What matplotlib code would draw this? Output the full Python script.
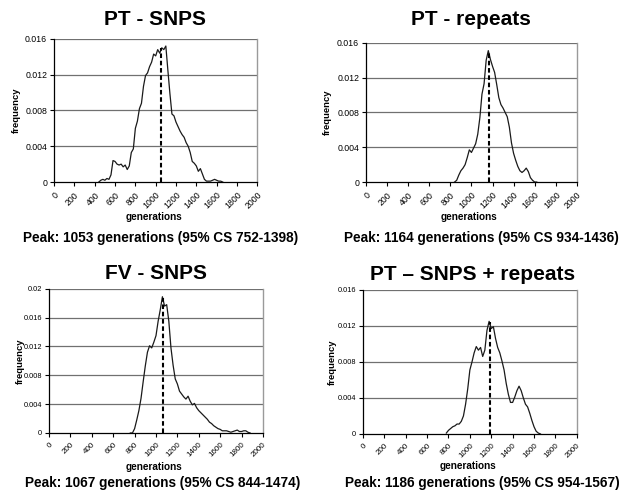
import matplotlib

matplotlib.use("Agg")
import matplotlib.pyplot as plt
import numpy as np

plt.rcParams["font.family"] = ["Liberation Sans", "DejaVu Sans"]

GRID = "#707070"
FRAME = "#9a9a9a"

TITLES = ["PT - SNPS", "PT - repeats", "FV - SNPS", "PT \u2013 SNPS + repeats"]
CAPTIONS = [
    "Peak: 1053 generations (95% CS 752-1398)",
    "Peak: 1164 generations (95% CS 934-1436)",
    "Peak: 1067 generations (95% CS 844-1474)",
    "Peak: 1186 generations (95% CS 954-1567)",
]
PEAK_GEN = [1053, 1164, 1067, 1186]
PEAK_FREQ = [0.0150, 0.0151, 0.0187, 0.0124]
Y_MAX = [0.016, 0.016, 0.02, 0.016]
Y_TICKS = [
    [0, 0.004, 0.008, 0.012, 0.016],
    [0, 0.004, 0.008, 0.012, 0.016],
    [0, 0.004, 0.008, 0.012, 0.016, 0.02],
    [0, 0.004, 0.008, 0.012, 0.016],
]
Y_LABELS = [
    ["0", "0.004", "0.008", "0.012", "0.016"],
    ["0", "0.004", "0.008", "0.012", "0.016"],
    ["0", "0.004", "0.008", "0.012", "0.016", "0.02"],
    ["0", "0.004", "0.008", "0.012", "0.016"],
]
X_TICKS = list(range(0, 2001, 200))

# generations, sampled every 20
pt_snps_x = list(range(440, 1661, 20))
pt_snps_y = [
    0.0, 0.0002, 0.0003, 0.0002, 0.0004, 0.0003, 0.0008, 0.0024, 0.0023, 0.0020,
    0.0019, 0.0020, 0.0017, 0.0019, 0.0014, 0.0018, 0.0033, 0.0037, 0.0060, 0.0068,
    0.0082, 0.0088, 0.0107, 0.0119, 0.0122, 0.0129, 0.0134, 0.0143, 0.0141, 0.0148,
    0.0144, 0.0150, 0.0148, 0.0152, 0.0125, 0.0099, 0.0076, 0.0074, 0.0067, 0.0062,
    0.0057, 0.0053, 0.0050, 0.0044, 0.0040, 0.0033, 0.0023, 0.0021, 0.0018, 0.0012,
    0.0015, 0.0009, 0.0003, 0.0001, 0.0001, 0.0001, 0.0002, 0.0003, 0.0002, 0.0001,
    0.0001, 0.0,
]

pt_rep_x = list(range(840, 1621, 20))
pt_rep_y = [
    0.0, 0.0002, 0.0008, 0.0013, 0.0016, 0.0020, 0.0028, 0.0037, 0.0034, 0.0039,
    0.0044, 0.0055, 0.0074, 0.0101, 0.0113, 0.0140, 0.0151, 0.0141, 0.0133, 0.0126,
    0.0112, 0.0097, 0.0089, 0.0085, 0.0080, 0.0075, 0.0063, 0.0045, 0.0033, 0.0025,
    0.0018, 0.0013, 0.0011, 0.0013, 0.0016, 0.0012, 0.0005, 0.0002, 0.0, 0.0,
]

fv_snps_x = list(range(760, 1881, 20))
fv_snps_y = [
    0.0, 0.0, 0.0006, 0.0018, 0.0031, 0.0048, 0.0071, 0.0093, 0.0112, 0.0121,
    0.0118, 0.0126, 0.0135, 0.0155, 0.0171, 0.0189, 0.0176, 0.0178, 0.0155, 0.0118,
    0.0094, 0.0075, 0.0068, 0.0058, 0.0054, 0.0050, 0.0047, 0.0051, 0.0044, 0.0039,
    0.0041, 0.0035, 0.0031, 0.0028, 0.0025, 0.0022, 0.0019, 0.0015, 0.0013, 0.0010,
    0.0008, 0.0006, 0.0005, 0.0003, 0.0003, 0.0003, 0.0002, 0.0001, 0.0002, 0.0003,
    0.0004, 0.0002, 0.0002, 0.0003, 0.0003, 0.0001, 0.0,
]

pt_both_x = list(range(780, 1661, 20))
pt_both_y = [
    0.0001, 0.0004, 0.0006, 0.0008, 0.0009, 0.0011, 0.0011, 0.0014, 0.0020, 0.0033,
    0.0050, 0.0071, 0.0080, 0.0090, 0.0097, 0.0093, 0.0096, 0.0086, 0.0093, 0.0115,
    0.0125, 0.0117, 0.0119, 0.0106, 0.0096, 0.0090, 0.0081, 0.0071, 0.0056, 0.0044,
    0.0035, 0.0035, 0.0041, 0.0048, 0.0053, 0.0048, 0.0040, 0.0033, 0.0030, 0.0023,
    0.0015, 0.0008, 0.0003, 0.0001, 0.0,
]

SERIES_X = [pt_snps_x, pt_rep_x, fv_snps_x, pt_both_x]
SERIES_Y = [pt_snps_y, pt_rep_y, fv_snps_y, pt_both_y]

# layout, all in figure / axes fractions
RECTS = [
    (0.086, 0.630, 0.323, 0.291),
    (0.582, 0.630, 0.335, 0.283),
    (0.078, 0.120, 0.340, 0.293),
    (0.577, 0.118, 0.340, 0.293),
]
TITLE_POS = [(0.247, 0.949), (0.749, 0.949), (0.248, 0.433), (0.752, 0.431)]
XLABEL_Y = [-0.245, -0.25, -0.236, -0.225]
YLABEL_X = [-0.187, -0.185, -0.136, -0.145]
YTICK_SIZE = [6.3, 6.3, 5.3, 5.3]
XTICK_SIZE = [6.3, 6.3, 5.8, 5.8]
CAPTION_POS = [(0.256, 0.517), (0.766, 0.517), (0.258, 0.018), (0.767, 0.019)]

fig = plt.figure(figsize=(6.29, 4.92), dpi=100)
fig.patch.set_facecolor("white")

for i in range(4):
    ax = fig.add_axes(RECTS[i])
    ax.set_xlim(0, 2000)
    ax.set_ylim(0, Y_MAX[i])

    for t in Y_TICKS[i][1:]:
        ax.axhline(t, color=GRID, linewidth=0.9, zorder=1)

    ax.plot(SERIES_X[i], SERIES_Y[i], color="#1a1a1a", linewidth=0.9, zorder=3)
    ax.vlines(PEAK_GEN[i], 0, PEAK_FREQ[i], colors="black", linestyles=(0, (2.2, 1.3)),
              linewidth=1.5, zorder=4)

    ax.spines["top"].set_visible(False)
    ax.spines["right"].set_color(FRAME)
    ax.spines["right"].set_linewidth(1.0)
    ax.spines["left"].set_linewidth(0.9)
    ax.spines["bottom"].set_linewidth(0.9)

    ax.set_yticks(Y_TICKS[i])
    ax.set_yticklabels(Y_LABELS[i], fontsize=YTICK_SIZE[i])
    ax.set_xticks(X_TICKS)
    ax.set_xticklabels([str(v) for v in X_TICKS], fontsize=XTICK_SIZE[i], rotation=45,
                       ha="right", va="top", rotation_mode="anchor")
    ax.tick_params(axis="both", direction="out", length=3, width=0.8, pad=2)
    ax.tick_params(axis="x", pad=3)

    ax.set_xlabel("generations", fontsize=7.2, fontweight="bold")
    ax.xaxis.set_label_coords(0.49, XLABEL_Y[i])
    ax.xaxis.label.set_va("center")
    ax.set_ylabel("frequency", fontsize=6.8, fontweight="bold")
    ax.yaxis.set_label_coords(YLABEL_X[i], 0.5)
    ax.yaxis.label.set_va("center")

    fig.text(TITLE_POS[i][0], TITLE_POS[i][1], TITLES[i], ha="center", va="baseline",
             fontsize=15, fontweight="bold")
    fig.text(CAPTION_POS[i][0], CAPTION_POS[i][1], CAPTIONS[i], ha="center", va="center",
             fontsize=9.8, fontweight="bold")

fig.savefig("out.png", dpi=100, facecolor="white")
plt.close(fig)
